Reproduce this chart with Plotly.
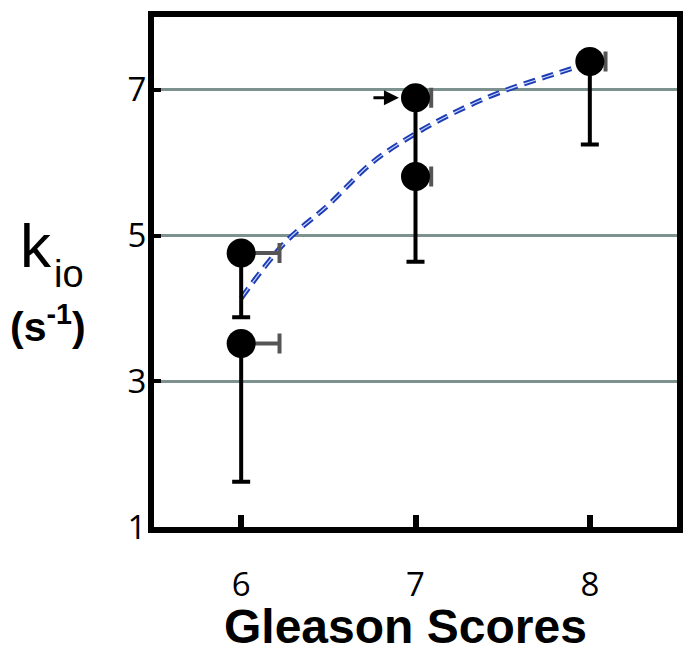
import plotly.graph_objects as go

# measured points (Gleason score vs k_io)
scores = [6, 6, 7, 7, 8]
kio = [4.76, 3.52, 6.89, 5.81, 7.39]
err_down = [0.88, 1.90, 1.08, 1.17, 1.14]
err_right = [0.22, 0.22, 0.09, 0.09, 0.09]

# dashed trend curve
curve_x = [6.0, 6.25, 6.5, 6.75, 7.0, 7.25, 7.5, 7.75, 8.0]
curve_y = [4.14, 4.90, 5.42, 6.00, 6.40, 6.72, 6.98, 7.18, 7.37]

x_ticks = [6, 7, 8]
y_ticks = [1, 3, 5, 7]

ARIAL = "Liberation Sans, Arial, sans-serif"
TICKFONT = "Open Sans, sans-serif"

fig = go.Figure()

# trend line: blue dashes with a light highlight
fig.add_trace(
    go.Scatter(
        x=curve_x, y=curve_y, mode="lines",
        line={"color": "#1c3cb4", "width": 5, "dash": "12px,7px", "shape": "spline"},
        hoverinfo="skip", showlegend=False,
    )
)
fig.add_trace(
    go.Scatter(
        x=curve_x, y=curve_y, mode="lines",
        line={"color": "#c9d4ff", "width": 1.2, "dash": "12px,7px", "shape": "spline"},
        hoverinfo="skip", showlegend=False,
    )
)

# horizontal one-sided error bars
fig.add_trace(
    go.Scatter(
        x=scores, y=kio, mode="markers",
        marker={"size": 1, "color": "rgba(0,0,0,0)"},
        error_x={
            "type": "data", "symmetric": False,
            "array": err_right, "arrayminus": [0] * len(scores),
            "color": "#555555", "thickness": 4, "width": 10,
        },
        hoverinfo="skip", showlegend=False,
    )
)

# markers with downward error bars
fig.add_trace(
    go.Scatter(
        x=scores, y=kio, mode="markers",
        marker={"size": 29, "color": "black"},
        error_y={
            "type": "data", "symmetric": False,
            "array": [0] * len(scores), "arrayminus": err_down,
            "color": "black", "thickness": 4, "width": 9,
        },
        showlegend=False,
    )
)

# small arrow pointing at the upper score-7 point
fig.add_annotation(
    x=6.905, y=6.89, ax=-27, ay=0, showarrow=True,
    arrowhead=2, arrowsize=1, arrowwidth=3, arrowcolor="black", text="",
)

# axis titles (placed by hand, centred)
title_font = {"family": ARIAL, "color": "black"}
fig.add_annotation(
    text="<b>Gleason Scores</b>", xref="paper", yref="paper",
    x=0.481, y=-0.196, xanchor="center", yanchor="middle", showarrow=False,
    font={**title_font, "size": 48},
)
fig.add_annotation(
    text="k", xref="paper", yref="paper", x=-0.226, y=0.551,
    xanchor="center", yanchor="middle", showarrow=False,
    font={**title_font, "size": 62},
)
fig.add_annotation(
    text="io", xref="paper", yref="paper", x=-0.163, y=0.497,
    xanchor="center", yanchor="middle", showarrow=False,
    font={**title_font, "size": 38},
)
fig.add_annotation(
    text="<b>(s<sup>-1</sup>)</b>", xref="paper", yref="paper", x=-0.2035, y=0.398,
    xanchor="center", yanchor="middle", showarrow=False,
    font={**title_font, "size": 41},
)

fig.update_layout(
    width=694, height=654,
    margin={"l": 154, "r": 14, "t": 11, "b": 127},
    plot_bgcolor="white", paper_bgcolor="white",
    xaxis={
        "range": [5.5, 8.5], "tickvals": x_ticks,
        "showgrid": False, "zeroline": False,
        "showline": True, "linecolor": "black", "linewidth": 6, "mirror": True,
        "ticks": "inside", "ticklen": 12, "tickwidth": 6, "tickcolor": "black",
        "tickfont": {"family": TICKFONT, "size": 33, "color": "black"},
        "ticklabelstandoff": 23,
    },
    yaxis={
        "range": [1, 8], "tickvals": y_ticks,
        "showgrid": True, "gridcolor": "#7d928f", "gridwidth": 3,
        "zeroline": False,
        "showline": True, "linecolor": "black", "linewidth": 6, "mirror": True,
        "ticks": "inside", "ticklen": 7, "tickwidth": 4, "tickcolor": "black",
        "tickfont": {"family": TICKFONT, "size": 33, "color": "black"},
        "ticklabelstandoff": -5,
    },
)

fig.write_html(
    "out.html",
    config={"displayModeBar": False},
    post_script="document.body.style.margin='0';",
)
